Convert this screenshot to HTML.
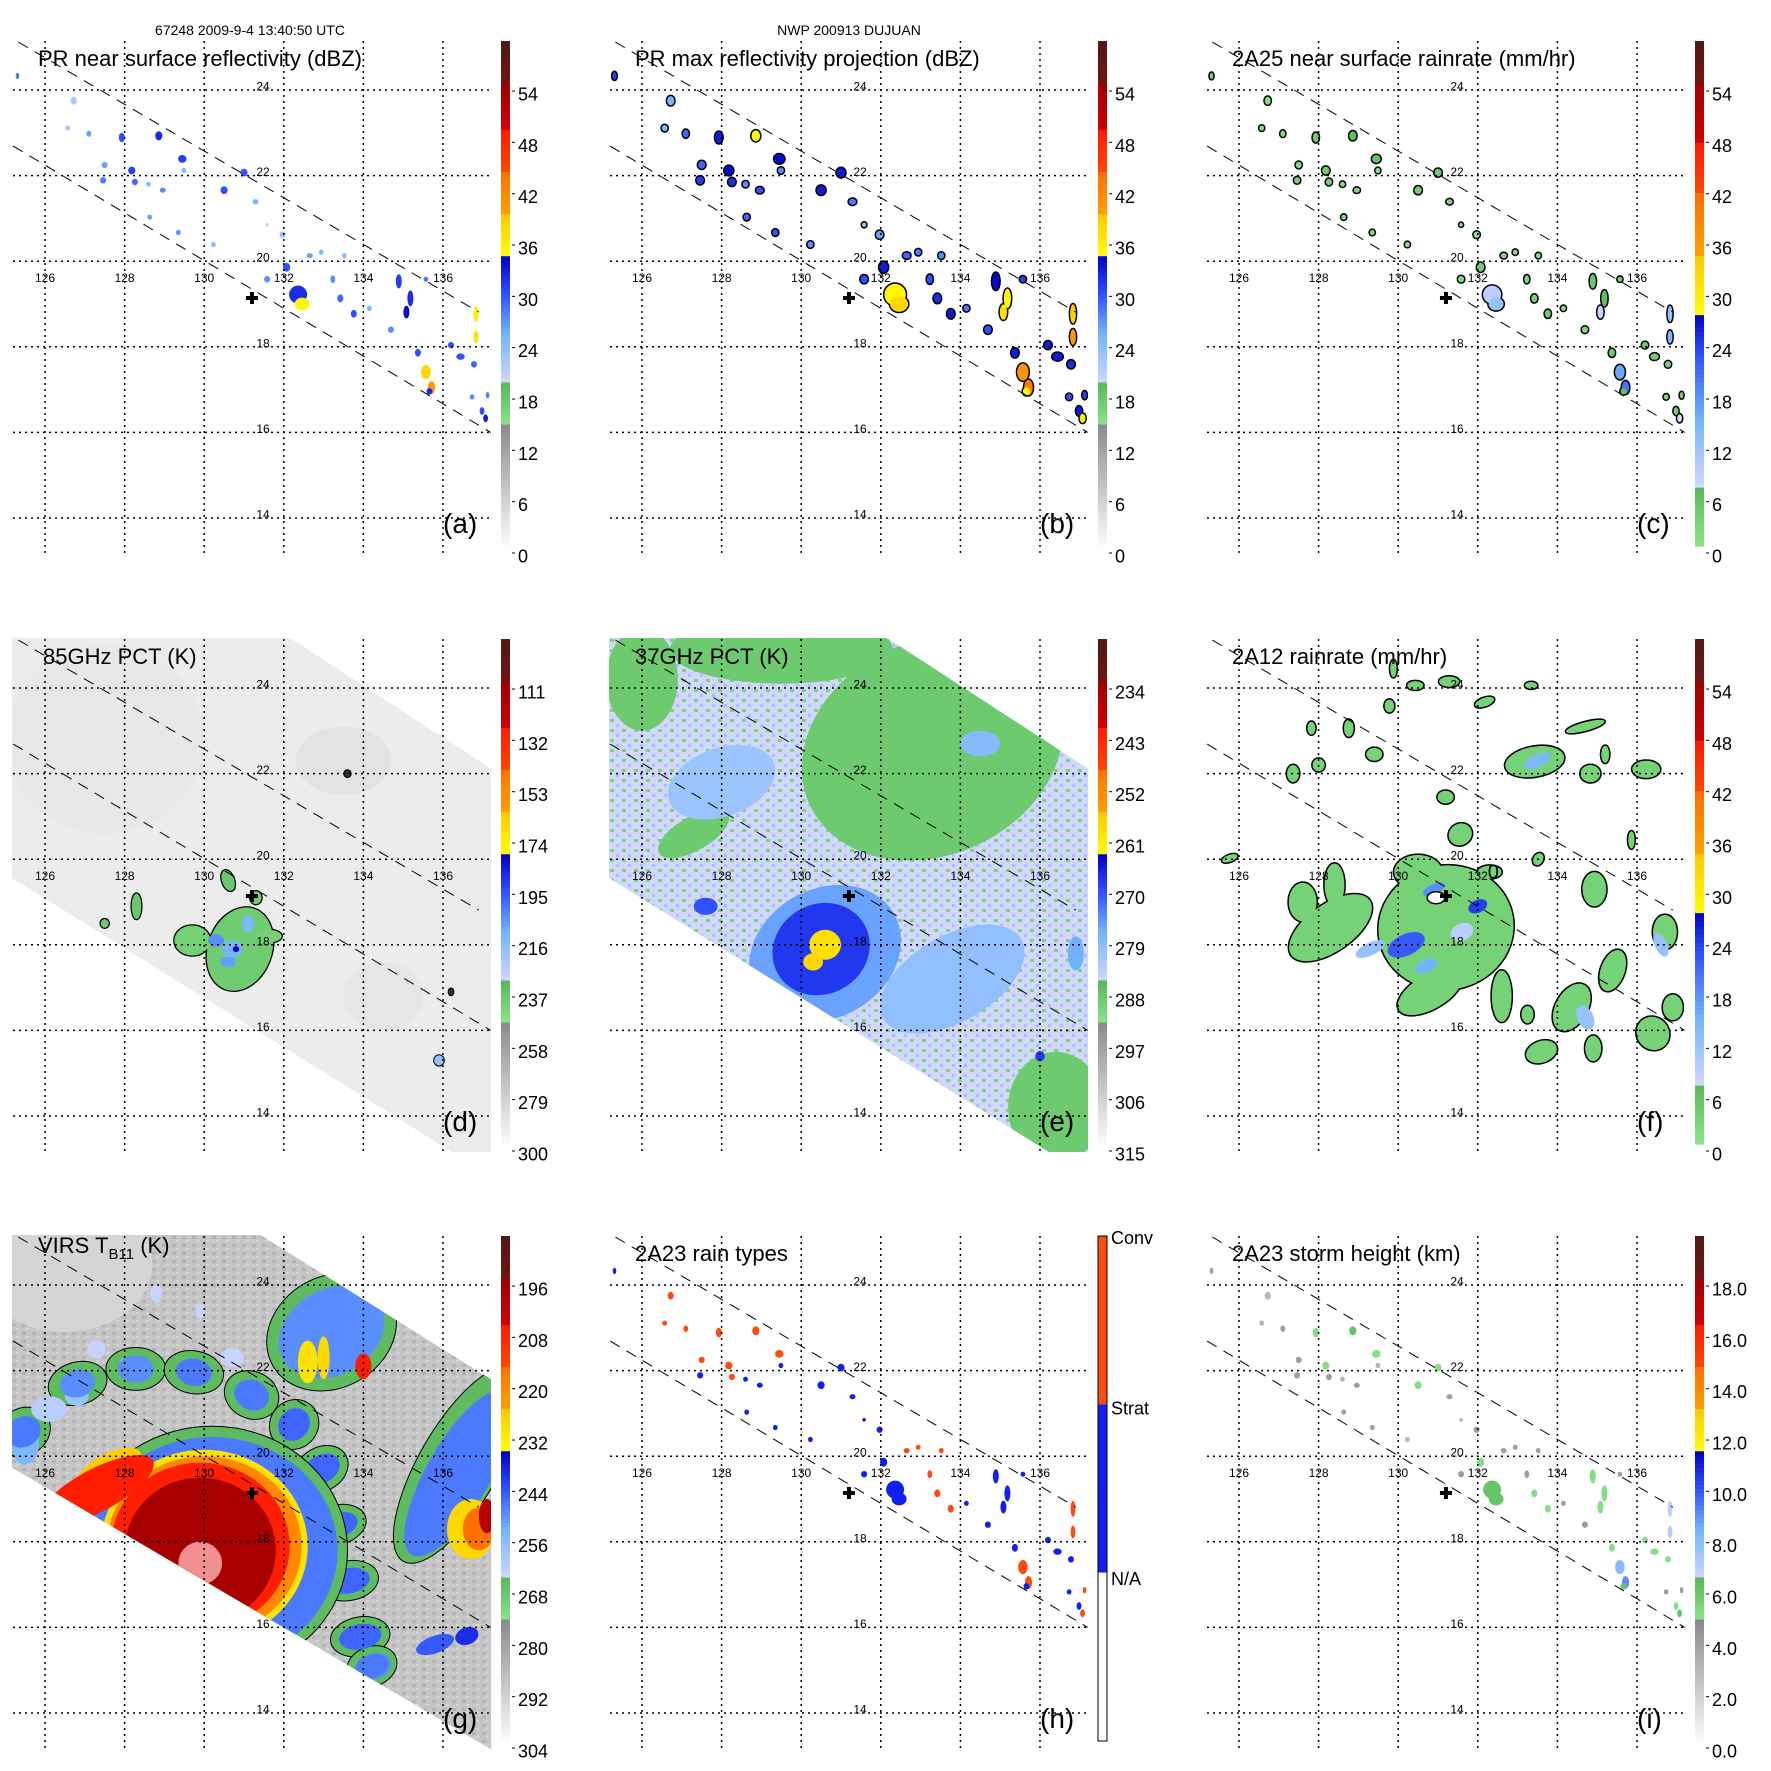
<!DOCTYPE html>
<html><head><meta charset="utf-8"><title>NWP 200913 DUJUAN TRMM overview</title>
<style>html,body{margin:0;padding:0;background:#fff}svg{display:block}</style></head>
<body>
<svg id="fig" width="1771" height="1771" viewBox="0 0 1771 1771" xmlns="http://www.w3.org/2000/svg" font-family="'Liberation Sans', Arial, sans-serif">
<rect width="1771" height="1771" fill="#ffffff"/>
<defs id="defs"></defs>
<text x="250" y="35" font-size="14" text-anchor="middle">67248 2009-9-4 13:40:50 UTC</text>
<text x="849" y="35" font-size="14" text-anchor="middle">NWP 200913 DUJUAN</text>

<g id="pa" transform="translate(0,0)"><g class="map"></g>
<text x="38" y="66" font-size="22">PR near surface reflectivity (dBZ)</text>
<text x="443" y="533" font-size="28">(a)</text></g>

<g id="pb" transform="translate(597,0)"><g class="map"></g>
<text x="38" y="66" font-size="22">PR max reflectivity projection (dBZ)</text>
<text x="443" y="533" font-size="28">(b)</text></g>

<g id="pc" transform="translate(1194,0)"><g class="map"></g>
<text x="38" y="66" font-size="22">2A25 near surface rainrate (mm/hr)</text>
<text x="443" y="533" font-size="28">(c)</text></g>

<g id="pd" transform="translate(0,598)"><g class="map"></g>
<text x="43" y="66" font-size="22">85GHz PCT (K)</text>
<text x="443" y="533" font-size="28">(d)</text></g>

<g id="pe" transform="translate(597,598)"><g class="map"></g>
<text x="38" y="66" font-size="22">37GHz PCT (K)</text>
<text x="443" y="533" font-size="28">(e)</text></g>

<g id="pf" transform="translate(1194,598)"><g class="map"></g>
<text x="38" y="66" font-size="22">2A12 rainrate (mm/hr)</text>
<text x="443" y="533" font-size="28">(f)</text></g>

<g id="pg" transform="translate(0,1195)"><g class="map"></g>
<text x="38" y="58" font-size="22">VIRS T<tspan font-size="15" dy="6">B11</tspan><tspan dy="-6"> (K)</tspan></text>
<text x="443" y="533" font-size="28">(g)</text></g>

<g id="ph" transform="translate(597,1195)"><g class="map"></g>
<text x="38" y="66" font-size="22">2A23 rain types</text>
<text x="443" y="533" font-size="28">(h)</text></g>

<g id="pi" transform="translate(1194,1195)"><g class="map"></g>
<text x="38" y="66" font-size="22">2A23 storm height (km)</text>
<text x="443" y="533" font-size="28">(i)</text></g>
</svg>

<script>
// ---------- axis ticks / labels ----------
const lonTicks = [126, 128, 130, 132, 134, 136];
const latTicks = [24, 22, 20, 18, 16, 14];
const cbLabelsA = ['0','6','12','18','24','30','36','42','48','54'];
const cbLabelsD = ['300','279','258','237','216','195','174','153','132','111'];
const cbLabelsE = ['315','306','297','288','279','270','261','252','243','234'];
const cbLabelsG = ['304','292','280','268','256','244','232','220','208','196'];
const cbLabelsI = ['0.0','2.0','4.0','6.0','8.0','10.0','12.0','14.0','16.0','18.0'];
const cbLabelsH = ['Conv','Strat','N/A'];

// ---------- swath geometry (lon/lat) ----------
const tmiSwathLon = [125.1, 131.94, 137.3, 137.3, 136.5, 125.1];
const tmiSwathLat = [25.3, 25.3, 22.06, 13.0, 13.0, 19.6];
const virsSwathLon = [125.1, 131.19, 137.3, 137.3, 125.1];
const virsSwathLat = [25.3, 25.3, 21.74, 13.1, 19.77];
const prEdgeLon1 = [125.33, 136.9];
const prEdgeLat1 = [25.12, 18.81];
const prEdgeLon2 = [125.2, 137.2];
const prEdgeLat2 = [22.69, 16.0];
const stormCenter = [131.2, 19.14];

// ---------- PR cells (panels a,b,c,h,i) ----------
const prLon = [125.31,126.72,126.57,127.1,127.93,127.5,128.18,127.46,128.26,128.6,128.96,128.86,129.45,129.49,130.5,131.0,131.29,129.35,130.23,128.63,131.58,131.97,132.07,132.36,132.46,131.58,132.65,132.94,133.23,133.42,133.76,133.52,134.15,134.69,134.89,135.18,135.08,135.57,136.2,136.44,136.83,136.83,136.78,135.37,135.57,135.71,135.66,137.12,136.98,137.07,136.73];
const prLat = [24.33,23.75,23.11,22.98,22.89,22.25,22.12,21.89,21.85,21.8,21.66,22.93,22.39,22.12,21.66,22.07,21.39,20.67,20.39,21.03,20.85,20.62,19.86,19.22,19.0,19.58,20.13,20.21,19.58,19.13,18.77,20.13,18.9,18.4,19.53,19.13,18.81,19.58,18.04,17.77,18.77,18.23,17.59,17.86,17.41,17.05,16.96,16.87,16.5,16.33,16.83];
const prDbz = [28,22,22,26,30,26,31,28,29,24,27,32,31,24,30,30,25,27,24,26,20,23,30,32,35,27,26,25,27,29,30,24,25,27,31,32,34,28,30,30,36,37,29,30,38,40,32,28,30,33,27];
const prRain = [3,1,1,2,4,2,4,3,3,1,2,6,5,1,4,4,2,2,1,2,1,1,4,9,12,2,2,1,2,3,4,1,1,2,5,6,8,3,4,4,12,14,3,4,16,20,6,3,4,7,2];
const prType = ['S','C','C','C','C','C','C','S','C','S','S','C','C','S','S','S','S','S','S','S','S','S','S','S','S','S','C','C','C','C','C','C','S','S','S','S','S','S','S','S','C','C','S','S','C','C','S','C','S','C','S'];
const prHeight = [4,3,3,4,5,4,5,4,4,3,4,6,5,3,5,5,4,4,3,4,3,4,5,6,6,4,4,4,4,5,5,4,4,4,5,5,5,4,5,5,7,7,5,5,8,9,6,4,5,6,4];
const prRx = [0.06,0.1,0.08,0.08,0.1,0.1,0.12,0.1,0.1,0.08,0.1,0.12,0.14,0.08,0.12,0.12,0.1,0.08,0.08,0.08,0.06,0.1,0.12,0.3,0.25,0.1,0.1,0.08,0.08,0.1,0.1,0.08,0.08,0.1,0.1,0.1,0.1,0.08,0.1,0.14,0.08,0.08,0.1,0.1,0.16,0.12,0.1,0.06,0.08,0.08,0.08];
const prRy = [0.1,0.12,0.08,0.1,0.15,0.1,0.12,0.1,0.1,0.08,0.08,0.14,0.12,0.08,0.12,0.12,0.08,0.08,0.08,0.08,0.06,0.1,0.14,0.28,0.2,0.1,0.08,0.08,0.12,0.12,0.12,0.08,0.08,0.1,0.22,0.25,0.2,0.08,0.1,0.1,0.25,0.2,0.1,0.12,0.22,0.2,0.1,0.1,0.12,0.12,0.08];

// ---------- 85GHz (panel d) features ----------
const dLon = [127.5,133.5,134.5,130.9,129.7,130.6,131.6,128.3,127.5,131.3,130.7,130.3,131.1,130.6,130.8,135.9,133.6,136.2];
const dLat = [22.8,22.3,16.8,17.9,18.1,19.5,18.2,18.9,18.5,19.1,17.9,18.1,18.5,17.6,17.9,15.3,22.0,16.9];
const dRx = [2.5,1.2,1.0,0.8,0.45,0.15,0.35,0.12,0.1,0.14,0.25,0.2,0.15,0.2,0.08,0.12,0.08,0.06];
const dRy = [2.2,0.8,0.8,1.0,0.35,0.25,0.15,0.3,0.1,0.15,0.2,0.15,0.2,0.12,0.07,0.12,0.08,0.08];
const dTemp = [291,289,290,240,242,238,242,238,240,240,212,205,214,208,180,240,250,255];

// ---------- 37GHz (panel e) features ----------
const eLon = [133.3,129.5,126.0,136.4,127.3,133.8,134.5,128.0,130.6,130.5,130.6,130.3,127.6,136.0,136.9];
const eLat = [22.6,24.9,24.2,14.2,20.6,17.2,22.7,21.8,17.8,17.9,18.0,17.6,18.9,15.4,17.8];
const eRx = [3.4,2.8,0.9,1.2,1.0,2.0,0.5,1.4,2.0,1.25,0.4,0.25,0.3,0.12,0.2];
const eRy = [2.5,0.8,1.2,1.3,0.4,1.0,0.3,0.8,1.5,1.05,0.35,0.2,0.2,0.12,0.4];
const eRot = [-25,0,0,0,-30,-30,0,-20,-30,-30,0,0,0,0,0];
const eTemp = [289,289,289,289,289,280,279,281,276,268,259,258,270,268,277];

// ---------- 2A12 (panel f) blobs ----------
const fLon = [131.2,128.3,127.6,128.4,130.5,130.8,133.43,134.7,134.83,136.23,135.2,131.56,134.93,135.39,134.36,133.6,134.9,132.6,133.25,136.4,136.7,136.9,125.77,129.4,127.36,128.0,130.43,131.28,129.88,128.76,127.82,129.78,131.19,132.17,133.34,135.86,133.52,132.3];
const fLat = [18.4,18.4,19.0,19.4,19.7,16.9,22.28,23.1,22.0,22.1,22.45,20.58,19.3,17.4,16.54,15.5,15.58,16.8,16.37,15.93,18.3,16.54,20.02,22.45,22.0,22.2,24.06,24.15,24.45,23.06,23.06,23.58,21.45,23.67,24.06,20.45,20.0,19.7];
const fRx = [1.7,1.2,0.35,0.25,0.6,0.9,0.75,0.5,0.25,0.35,0.1,0.3,0.3,0.3,0.4,0.4,0.2,0.25,0.15,0.4,0.3,0.25,0.2,0.2,0.15,0.15,0.2,0.25,0.08,0.12,0.1,0.12,0.2,0.25,0.15,0.08,0.12,0.3];
const fRy = [1.45,0.55,0.45,0.5,0.4,0.4,0.35,0.1,0.2,0.2,0.2,0.25,0.4,0.5,0.6,0.25,0.3,0.6,0.2,0.4,0.4,0.3,0.08,0.15,0.2,0.15,0.1,0.12,0.2,0.2,0.15,0.15,0.15,0.1,0.08,0.2,0.15,0.15];
const fRot = [-10,-35,0,0,0,-30,-10,-15,0,0,0,-30,0,20,30,-20,0,0,0,-40,0,0,-20,0,0,0,0,0,0,0,0,0,0,-20,0,0,30,0];
const fRate = [3,3,3,3,3,3,3,3,3,3,3,3,3,3,3,3,3,3,3,3,3,3,3,3,3,3,3,3,3,3,3,3,3,3,3,3,3,3];
const fCoreLon = [130.2,130.9,132.0,130.7,129.3,133.5,134.7,131.6,136.6];
const fCoreLat = [18.0,19.3,18.9,17.5,17.9,22.3,16.3,18.3,18.0];
const fCoreRx = [0.5,0.3,0.25,0.3,0.4,0.35,0.2,0.3,0.15];
const fCoreRy = [0.25,0.12,0.15,0.15,0.15,0.15,0.3,0.2,0.3];
const fCoreRate = [22,18,24,15,12,14,12,9,12];

// ---------- VIRS (panel g) features ----------
const gLon = [126.5,
 125.46,126.82,128.28,129.74,131.19,132.26,132.95,133.33,133.63,133.92,134.21,
 133.2,136.4,128.8,129.9,127.3,128.1,130.7,126.8,126.1,125.5,134.3,135.8,136.6,
 125.46,126.82,128.28,129.74,131.19,132.26,132.95,133.33,133.63,133.92,134.21,
 133.2,136.4,
 130.2,130.2,127.6,130.0,130.0,129.9,127.3,129.9,129.9,
 132.6,133.0,134.0,136.7,136.9,137.1];
const gLat = [24.5,
 20.57,21.70,22.04,21.96,21.43,20.74,19.70,18.39,17.09,15.78,15.09,
 22.9,19.8,23.8,23.4,22.5,22.1,22.3,21.4,21.1,20.3,15.1,15.6,15.8,
 20.57,21.70,22.04,21.96,21.43,20.74,19.70,18.39,17.09,15.78,15.09,
 22.9,19.6,
 17.8,17.8,19.7,17.9,17.9,17.9,19.2,17.8,17.5,
 22.2,22.3,22.1,18.3,18.3,18.6];
const gRx = [2.2,
 0.7,0.75,0.75,0.75,0.7,0.6,0.55,0.5,0.5,0.5,0.5,
 1.7,1.0,0.15,0.12,0.22,0.25,0.3,0.3,0.45,0.35,0.4,0.5,0.3,
 0.45,0.45,0.45,0.45,0.45,0.38,0.35,0.32,0.32,0.32,0.3,
 1.4,0.8,
 3.4,3.15,0.9,2.6,2.45,2.25,1.6,1.9,0.55,
 0.25,0.15,0.2,0.6,0.4,0.2];
const gRy = [1.6,
 0.55,0.5,0.5,0.5,0.55,0.6,0.65,0.7,0.7,0.7,0.6,
 1.3,2.6,0.22,0.18,0.22,0.22,0.22,0.22,0.3,0.5,0.3,0.2,0.2,
 0.35,0.32,0.32,0.32,0.35,0.4,0.45,0.5,0.5,0.5,0.4,
 1.0,2.2,
 2.9,2.65,0.35,2.25,2.1,1.95,0.5,1.7,0.5,
 0.5,0.5,0.3,0.7,0.5,0.4];
const gRot = [0,
 -30,-15,0,10,25,40,60,75,80,80,70,
 -30,30,0,0,0,0,0,0,0,0,-20,-20,-20,
 -30,-15,0,10,25,40,60,75,80,80,70,
 -30,30,
 0,0,-28,0,0,0,-28,0,0,
 0,0,0,0,0,0];
const gTemp = [294,
 266,266,266,266,266,266,266,266,266,266,266,
 266,266,264,264,264,262,264,258,262,255,250,245,240,
 248,250,250,248,248,246,246,246,246,246,248,
 250,248,
 266,248,226,230,220,206,206,196,175,
 230,228,205,228,215,200];

// ---------- helpers ----------
const NS = 'http://www.w3.org/2000/svg';
function X(lon){ return 45 + (lon - 126) * 39.8; }
function Y(lat){ return 90 + (24 - lat) * 42.8; }
const PX_LON = 39.8, PX_LAT = 42.8;

const stopsA = [[0,'#fcfcfc'],[0.238,'#8c8c8c'],[0.238,'#8ae68a'],[0.322,'#5cb85c'],[0.322,'#d2d8ff'],[0.42,'#74b4ff'],[0.5,'#3050ff'],[0.575,'#0000c8'],[0.575,'#ffff00'],[0.658,'#ffc800'],[0.658,'#ffa000'],[0.743,'#ff7000'],[0.743,'#ff4800'],[0.828,'#ff1800'],[0.828,'#d00000'],[0.913,'#a00000'],[0.913,'#741410'],[1,'#501a14']];
const stopsC = [[0,'#8ae68a'],[0.116,'#5cb85c'],[0.116,'#d2d8ff'],[0.25,'#74b4ff'],[0.38,'#3050ff'],[0.459,'#0000c8'],[0.459,'#ffff00'],[0.577,'#ffc800'],[0.577,'#ffa000'],[0.698,'#ff7000'],[0.698,'#ff4800'],[0.797,'#ff1800'],[0.797,'#d00000'],[0.915,'#a00000'],[0.915,'#741410'],[1,'#501a14']];
function hex(c){ return [parseInt(c.substr(1,2),16),parseInt(c.substr(3,2),16),parseInt(c.substr(5,2),16)]; }
function colorAt(stops, f){
  if (f < 0) f = 0; if (f > 1) f = 1;
  for (let i = 0; i < stops.length - 1; i++) {
    const a = stops[i], b = stops[i+1];
    if (f >= a[0] && f <= b[0] && b[0] > a[0]) {
      const t = (f - a[0]) / (b[0] - a[0]);
      const ca = hex(a[1]), cb = hex(b[1]);
      return 'rgb(' + ca.map((v,k)=>Math.round(v + (cb[k]-v)*t)).join(',') + ')';
    }
  }
  return stops[stops.length-1][1];
}
function mk(tag, attrs, parent){
  const el = document.createElementNS(NS, tag);
  for (const k in attrs) el.setAttribute(k, attrs[k]);
  if (parent) parent.appendChild(el);
  return el;
}
function ellipse(parent, lon, lat, rxDeg, ryDeg, rot, fill, name){
  const cx = X(lon), cy = Y(lat);
  const el = mk('ellipse', {cx: cx.toFixed(1), cy: cy.toFixed(1), rx: (rxDeg*PX_LON).toFixed(1), ry: (ryDeg*PX_LAT).toFixed(1), fill: fill}, parent);
  if (rot) el.setAttribute('transform', 'rotate(' + rot + ' ' + cx.toFixed(1) + ' ' + cy.toFixed(1) + ')');
  
  
  return el;
}
function outlined(parent, lons, lats, rxs, rys, rots, colors, name, sw){
  const og = mk('g', {stroke: '#000', 'stroke-width': sw || 3}, parent);
  
  
  const fg = mk('g', {}, parent);
  
  
  for (let i = 0; i < lons.length; i++) {
    ellipse(og, lons[i], lats[i], rxs[i], rys[i], rots ? rots[i] : 0, '#000', name + '-outline');
    ellipse(fg, lons[i], lats[i], rxs[i], rys[i], rots ? rots[i] : 0, colors[i], name);
  }
}

// defs: clip paths
const defs = document.getElementById('defs');
const cpMap = mk('clipPath', {id: 'clipMap', clipPathUnits: 'userSpaceOnUse'}, defs);
mk('rect', {x: 12, y: 40, width: 479, height: 514}, cpMap);
function polyPts(lons, lats){ return lons.map((l,i)=>X(l).toFixed(1)+','+Y(lats[i]).toFixed(1)).join(' '); }
const cpT = mk('clipPath', {id: 'clipTmi', clipPathUnits: 'userSpaceOnUse'}, defs);
mk('polygon', {points: polyPts(tmiSwathLon, tmiSwathLat)}, cpT);
const cpV = mk('clipPath', {id: 'clipVirs', clipPathUnits: 'userSpaceOnUse'}, defs);
mk('polygon', {points: polyPts(virsSwathLon, virsSwathLat)}, cpV);
const pat = mk('pattern', {id: 'specks', width: 12, height: 10, patternUnits: 'userSpaceOnUse'}, defs);
mk('rect', {width: 12, height: 10, fill: '#d2d8fc'}, pat);
mk('rect', {x: 1, y: 1, width: 4, height: 3, fill: '#7ed47e'}, pat);
mk('rect', {x: 7, y: 6, width: 3, height: 3, fill: '#a8c0ff'}, pat);
const pat2 = mk('pattern', {id: 'grayTex', width: 10, height: 8, patternUnits: 'userSpaceOnUse'}, defs);
mk('rect', {width: 10, height: 8, fill: '#c6c6c6'}, pat2);
mk('rect', {x: 2, y: 1, width: 4, height: 3, fill: '#b4b4b4'}, pat2);
mk('rect', {x: 6, y: 5, width: 3, height: 2, fill: '#d6d6d6'}, pat2);

function panelLayers(id){
  const root = document.querySelector('#' + id + ' .map');
  const data = mk('g', {'clip-path': 'url(#clipMap)'}, root);
  
  
  const over = mk('g', {}, root);
  
  
  return {root, data, over};
}

function drawGrid(over){
  const gg = mk('g', {stroke: '#000', 'stroke-width': 1.5, 'stroke-dasharray': '2,4', fill: 'none'}, over);
  
  
  lonTicks.forEach(lon => {
    const l = mk('line', {x1: X(lon), x2: X(lon), y1: 41, y2: 554}, gg);
    
    
  });
  latTicks.forEach(lat => {
    const l = mk('line', {x1: 13, x2: 491, y1: Y(lat), y2: Y(lat)}, gg);
    
    
  });
  lonTicks.forEach(lon => {
    const t = mk('text', {x: X(lon), y: 282, 'font-size': 12, 'text-anchor': 'middle'}, over);
    t.textContent = String(lon);
    
    
  });
  latTicks.forEach(lat => {
    const t = mk('text', {x: 263, y: Y(lat) + 0.5, 'font-size': 12, 'text-anchor': 'middle'}, over);
    t.textContent = String(lat);
    
    
  });
  const dl = mk('g', {stroke: '#000', 'stroke-width': 1, 'stroke-dasharray': '11,8', fill: 'none'}, over);
  
  
  const e1 = mk('line', {x1: X(prEdgeLon1[0]), y1: Y(prEdgeLat1[0]), x2: X(prEdgeLon1[1]), y2: Y(prEdgeLat1[1])}, dl);
  
  
  const e2 = mk('line', {x1: X(prEdgeLon2[0]), y1: Y(prEdgeLat2[0]), x2: X(prEdgeLon2[1]), y2: Y(prEdgeLat2[1])}, dl);
  
  
  const cx = X(stormCenter[0]), cy = Y(stormCenter[1]);
  const cross = mk('path', {d: `M${cx-6},${cy}H${cx+6}M${cx},${cy-6}V${cy+6}`, stroke: '#000', 'stroke-width': 4}, over);
  
  
}

function drawColorbar(over, stops, labels){
  const cb = mk('g', {}, over);
  
  
  const top = 41, bot = 546, n = 120, h = (bot - top) / n;
  for (let i = 0; i < n; i++) {
    const f = (i + 0.5) / n;
    const r = mk('rect', {x: 501, y: (bot - (i+1)*h).toFixed(2), width: 9, height: (h+0.6).toFixed(2), fill: colorAt(stops, f)}, cb);
    
    
  }
  labels.forEach((lab, k) => {
    const cyv = 556 - k * 51.33;
    const tk = mk('line', {x1: 512, x2: 515, y1: cyv - 3, y2: cyv - 3, stroke: '#000', 'stroke-width': 1}, cb);
    
    
    const t = mk('text', {x: 518, y: cyv + 6.5, 'font-size': 18}, cb);
    t.textContent = lab;
    
    
  });
}

function prCells(layer, colors, outline, scale){
  const s = scale || 1;
  const rx = prRx.map(v => v * s), ry = prRy.map(v => v * s);
  if (outline) outlined(layer, prLon, prLat, rx, ry, null, colors, 'pr-cell', 3);
  else for (let i = 0; i < prLon.length; i++) ellipse(layer, prLon[i], prLat[i], rx[i], ry[i], 0, colors[i], 'pr-cell');
}

// ---------- Panel a ----------
(function(){
  const L = panelLayers('pa');
  prCells(L.data, prDbz.map(v => colorAt(stopsA, v / 60)), false, 0.75);
  drawGrid(L.over); drawColorbar(L.over, stopsA, cbLabelsA);
})();
// ---------- Panel b ----------
(function(){
  const L = panelLayers('pb');
  prCells(L.data, prDbz.map(v => colorAt(stopsA, (v + 3) / 60)), true, 0.9);
  drawGrid(L.over); drawColorbar(L.over, stopsA, cbLabelsA);
})();
// ---------- Panel c ----------
(function(){
  const L = panelLayers('pc');
  prCells(L.data, prRain.map(v => colorAt(stopsC, v / 60)), true, 0.75);
  drawGrid(L.over); drawColorbar(L.over, stopsC, cbLabelsA);
})();
// ---------- Panel d ----------
(function(){
  const L = panelLayers('pd');
  const sw = mk('g', {'clip-path': 'url(#clipTmi)'}, L.data);
  
  
  const base = mk('rect', {x: 0, y: 0, width: 500, height: 560, fill: colorAt(stopsA, (300 - 293) / 210)}, sw);
  
  
  const dc = dTemp.map(t => colorAt(stopsA, (300 - t) / 210));
  for (let i = 0; i < 3; i++) ellipse(sw, dLon[i], dLat[i], dRx[i], dRy[i], 0, dc[i], 'pct85-warm-region');
  outlined(sw, dLon.slice(3, 10), dLat.slice(3, 10), dRx.slice(3, 10), dRy.slice(3, 10), [20,0,-20,0,0,0,0], dc.slice(3, 10), 'pct85-cell', 2.5);
  for (let i = 10; i < 15; i++) ellipse(sw, dLon[i], dLat[i], dRx[i], dRy[i], 0, dc[i], 'pct85-core');
  outlined(sw, dLon.slice(15), dLat.slice(15), dRx.slice(15), dRy.slice(15), null, ['#9ac0ff','#303030','#303030'], 'pct85-small', 2);
  drawGrid(L.over); drawColorbar(L.over, stopsA, cbLabelsD);
})();
// ---------- Panel e ----------
(function(){
  const L = panelLayers('pe');
  const sw = mk('g', {'clip-path': 'url(#clipTmi)'}, L.data);
  
  
  const base = mk('rect', {x: 0, y: 0, width: 500, height: 560, fill: 'url(#specks)'}, sw);
  
  
  for (let i = 0; i < eLon.length; i++) ellipse(sw, eLon[i], eLat[i], eRx[i], eRy[i], eRot[i], colorAt(stopsA, (315 - eTemp[i]) / 90), 'pct37-region');
  drawGrid(L.over); drawColorbar(L.over, stopsA, cbLabelsE);
})();
// ---------- Panel f ----------
(function(){
  const L = panelLayers('pf');
  outlined(L.data, fLon, fLat, fRx, fRy, fRot, fRate.map(v => colorAt(stopsC, v / 60)), 'rain-area', 3);
  for (let i = 0; i < fCoreLon.length; i++) ellipse(L.data, fCoreLon[i], fCoreLat[i], fCoreRx[i], fCoreRy[i], -25, colorAt(stopsC, fCoreRate[i] / 60), 'rain-core');
  const eye = ellipse(L.data, 130.95, 19.1, 0.22, 0.14, 0, '#ffffff', 'rain-free-eye');
  eye.setAttribute('stroke', '#000'); eye.setAttribute('stroke-width', 1.5);
  const z = mk('text', {x: X(132.25), y: Y(19.55), 'font-size': 20}, L.over);
  z.textContent = '0';
  
  
  drawGrid(L.over); drawColorbar(L.over, stopsC, cbLabelsA);
})();
// ---------- Panel g ----------
(function(){
  const L = panelLayers('pg');
  const sw = mk('g', {'clip-path': 'url(#clipVirs)'}, L.data);
  
  
  const base = mk('rect', {x: 0, y: 0, width: 500, height: 560, fill: 'url(#grayTex)'}, sw);
  
  
  for (let i = 0; i < gLon.length; i++) {
    const t = gTemp[i];
    const col = t < 184 ? '#f09090' : colorAt(stopsA, (304 - t) / 120);
    const el = ellipse(sw, gLon[i], gLat[i], gRx[i] || 0.2, gRy[i] || 0.2, gRot[i] || 0, col, 'cloud-top-region');
    if (t === 266) { el.setAttribute('stroke', '#000'); el.setAttribute('stroke-width', 1); }
  }
  drawGrid(L.over); drawColorbar(L.over, stopsA, cbLabelsG);
})();
// ---------- Panel h ----------
(function(){
  const L = panelLayers('ph');
  prCells(L.data, prType.map(t => t === 'C' ? '#ff4a10' : '#1020f0'), false, 0.75);
  drawGrid(L.over);
  const cb = mk('g', {}, L.over);
  
  
  const segColors = ['#ff4a10', '#1020f0', '#ffffff'];
  const segH = (546 - 41) / 3;
  segColors.forEach((c, k) => {
    const r = mk('rect', {x: 501, y: 41 + k * segH, width: 9, height: segH, fill: c}, cb);
    
    
  });
  const fr = mk('rect', {x: 501, y: 41, width: 9, height: 505, fill: 'none', stroke: '#000', 'stroke-width': 1}, cb);
  
  
  cbLabelsH.forEach((lab, k) => {
    const t = mk('text', {x: 514, y: 49 + k * 170.5, 'font-size': 18}, cb);
    t.textContent = lab;
    
    
  });
})();
// ---------- Panel i ----------
(function(){
  const L = panelLayers('pi');
  prCells(L.data, prHeight.map(v => colorAt(stopsA, v / 20)), false, 0.75);
  drawGrid(L.over); drawColorbar(L.over, stopsA, cbLabelsI);
})();
</script>
</body></html>
